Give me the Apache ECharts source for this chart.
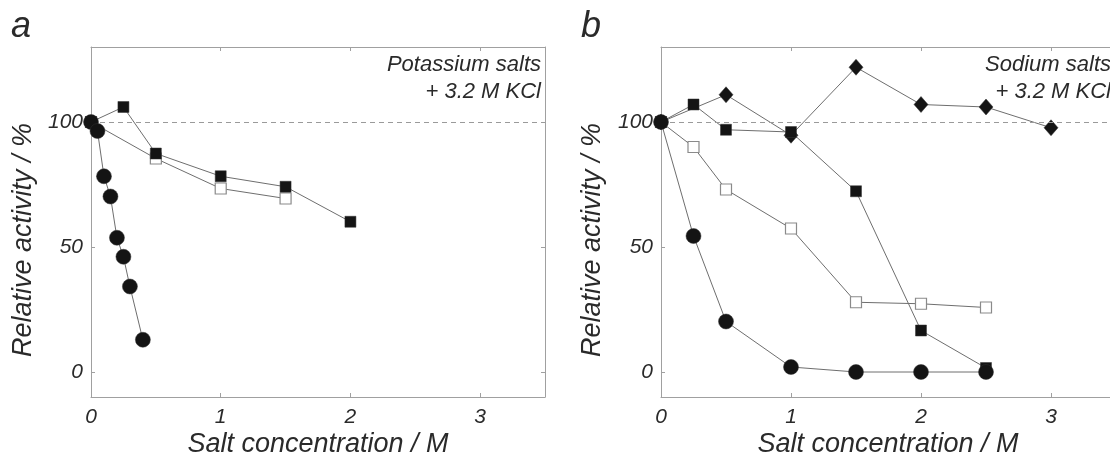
<!DOCTYPE html>
<html>
<head>
<meta charset="utf-8">
<script src="https://cdn.jsdelivr.net/npm/echarts@6/dist/echarts.min.js"></script>
<style>
  html, body { margin: 0; padding: 0; background: #fff; overflow: hidden; }
  #chart { width: 1110px; height: 458px; }
</style>
</head>
<body>
<div id="chart"></div>
<script>
// Salt concentrations (M) and relative activities (%)
// Panel a: potassium salts + 3.2 M KCl
const aCircleX = [0, 0.05, 0.1, 0.15, 0.2, 0.25, 0.3, 0.4];
const aCircleY = [100, 96.4, 78.3, 70.2, 53.7, 46.1, 34.2, 12.9];
const aFilledSqX = [0, 0.25, 0.5, 1, 1.5, 2];
const aFilledSqY = [100, 106, 87.4, 78.3, 74.1, 60.1];
const aOpenSqX = [0, 0.5, 1, 1.5];
const aOpenSqY = [100, 85.4, 73.4, 69.4];

// Panel b: sodium salts + 3.2 M KCl
const bDiamondX = [0, 0.5, 1, 1.5, 2, 2.5, 3];
const bDiamondY = [100, 110.9, 94.7, 121.9, 107, 106, 97.7];
const bFilledSqX = [0, 0.25, 0.5, 1, 1.5, 2, 2.5];
const bFilledSqY = [100, 107, 96.9, 96, 72.3, 16.6, 1.6];
const bOpenSqX = [0, 0.25, 0.5, 1, 1.5, 2, 2.5];
const bOpenSqY = [100, 90, 73, 57.4, 27.9, 27.3, 25.8];
const bCircleX = [0, 0.25, 0.5, 1, 1.5, 2, 2.5];
const bCircleY = [100, 54.4, 20.2, 2, 0, 0, 0];

const xTicks = [0, 1, 2, 3];
const yTicks = [0, 50, 100];
const referenceLevel = 100;

const panelLetters = ['a', 'b'];
const noteLines = [
  ['Potassium salts', '+ 3.2 M KCl'],
  ['Sodium salts', '+ 3.2 M KCl']
];
const xTitle = 'Salt concentration / M';
const yTitle = 'Relative activity / %';

const FONT = '"Liberation Sans", Arial, sans-serif';
const TEXT = '#2a2a2a';
const AXIS = '#a0a0a0';
const LINE = '#6e6e6e';
const MARK = '#141414';

const pair = (xs, ys) => xs.map((x, i) => [x, ys[i]]);

// Both panels use 130 px per M; panel b runs on past the right side of the page.
const grids = [
  { left: 91, top: 47, width: 454, height: 350, outerBoundsMode: 'none', containLabel: false },
  { left: 661, top: 47, width: 490, height: 350, outerBoundsMode: 'none', containLabel: false }
];
const xMax = [3.5, 3.5 * 490 / 455];

const edgeLine = { show: true, onZero: false, lineStyle: { color: AXIS, width: 1 } };

const xAxes = [];
const yAxes = [];
grids.forEach((g, gi) => {
  // bottom axis with labels; the title sits under the 0-3.5 M span
  xAxes.push({
    type: 'value', gridIndex: gi, min: 0, max: xMax[gi], position: 'bottom',
    axisLine: edgeLine,
    axisTick: { show: true, inside: true, length: 4, customValues: xTicks, lineStyle: { color: AXIS } },
    axisLabel: { customValues: xTicks, margin: 10, fontFamily: FONT, fontStyle: 'italic', fontSize: 21, color: TEXT },
    splitLine: { show: false }
  });
  // top edge of the frame, ticks only
  xAxes.push({
    type: 'value', gridIndex: gi, min: 0, max: xMax[gi], position: 'top',
    axisLine: edgeLine,
    axisTick: { show: true, inside: true, length: 4, customValues: xTicks, lineStyle: { color: AXIS } },
    axisLabel: { show: false },
    splitLine: { show: false }
  });
  yAxes.push({
    type: 'value', gridIndex: gi, min: -10, max: 130, position: 'left',
    axisLine: edgeLine,
    axisTick: { show: true, inside: true, length: 4, customValues: yTicks, lineStyle: { color: AXIS } },
    axisLabel: { customValues: yTicks, margin: 8, fontFamily: FONT, fontStyle: 'italic', fontSize: 21, color: TEXT },
    splitLine: { show: false }
  });
  // right edge of the frame, ticks only
  yAxes.push({
    type: 'value', gridIndex: gi, min: -10, max: 130, position: 'right',
    axisLine: edgeLine,
    axisTick: { show: true, inside: true, length: 4, customValues: yTicks, lineStyle: { color: AXIS } },
    axisLabel: { show: false },
    splitLine: { show: false }
  });
});

function makeSeries(gi, data, symbol, size, filled, z) {
  return {
    type: 'line', xAxisIndex: gi * 2, yAxisIndex: gi * 2, data: data,
    symbol: symbol, symbolSize: size, showSymbol: true, z: z,
    lineStyle: { color: LINE, width: 1 },
    itemStyle: filled
      ? { color: MARK, borderColor: '#333', borderWidth: 0.5, opacity: 1 }
      : { color: '#fff', borderColor: '#8a8a8a', borderWidth: 1.2, opacity: 1 },
    emphasis: { disabled: true },
    animation: false
  };
}

const refLine = (gi) => ({
  type: 'line', xAxisIndex: gi * 2, yAxisIndex: gi * 2, data: [], z: 1,
  markLine: {
    silent: true, symbol: 'none', animation: false,
    label: { show: false },
    lineStyle: { color: '#9a9a9a', type: [5, 4], width: 1 },
    data: [{ yAxis: referenceLevel }]
  }
});

const series = [
  refLine(0),
  makeSeries(0, pair(aOpenSqX, aOpenSqY), 'rect', 11, false, 3),
  makeSeries(0, pair(aFilledSqX, aFilledSqY), 'rect', 11, true, 4),
  makeSeries(0, pair(aCircleX, aCircleY), 'circle', 15, true, 5),
  refLine(1),
  makeSeries(1, pair(bDiamondX, bDiamondY), 'diamond', [14, 16], true, 2),
  makeSeries(1, pair(bOpenSqX, bOpenSqY), 'rect', 11, false, 3),
  makeSeries(1, pair(bFilledSqX, bFilledSqY), 'rect', 11, true, 4),
  makeSeries(1, pair(bCircleX, bCircleY), 'circle', 15, true, 5)
];

const noteStyle = (text) => ({ text: text, font: 'italic 22px ' + FONT, fill: TEXT });
const yTitleText = (cx) => ({
  type: 'text', x: cx, y: 240, rotation: Math.PI / 2,
  style: { text: yTitle, font: 'italic 27px ' + FONT, fill: TEXT, align: 'center', verticalAlign: 'middle' }
});
const xTitleText = (cx) => ({
  type: 'text', x: cx, y: 444,
  style: { text: xTitle, font: 'italic 27px ' + FONT, fill: TEXT, align: 'center', verticalAlign: 'middle' }
});
const graphic = [
  { type: 'text', left: 11, top: 9, style: { text: panelLetters[0], font: 'italic 36px ' + FONT, fill: TEXT } },
  { type: 'text', left: 581, top: 9, style: { text: panelLetters[1], font: 'italic 36px ' + FONT, fill: TEXT } },
  { type: 'text', right: 569, top: 54, style: noteStyle(noteLines[0][0]) },
  { type: 'text', right: 569, top: 81, style: noteStyle(noteLines[0][1]) },
  { type: 'text', right: -1, top: 54, style: noteStyle(noteLines[1][0]) },
  { type: 'text', right: -1, top: 81, style: noteStyle(noteLines[1][1]) },
  yTitleText(23),
  yTitleText(592),
  xTitleText(318),
  xTitleText(888)
];

const chart = echarts.init(document.getElementById('chart'), null, { renderer: 'canvas' });
chart.setOption({
  animation: false,
  backgroundColor: '#fff',
  grid: grids,
  xAxis: xAxes,
  yAxis: yAxes,
  series: series,
  graphic: graphic
});
</script>
</body>
</html>
